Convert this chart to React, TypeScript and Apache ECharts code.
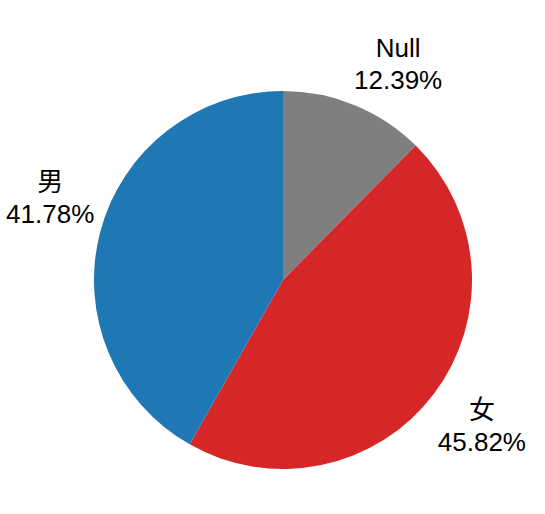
import React, { useEffect, useRef } from "react";
import * as echarts from "echarts";

const categories = ["Null", "女", "男"];
const percents = [12.39, 45.82, 41.78];
const colors = ["#7f7f7f", "#d62728", "#1f77b4"];

const W = 545;
const H = 514;
const CX = 283;
const CY = 280;
const R = 189;

export default function App() {
  const ref = useRef<HTMLDivElement>(null);
  useEffect(() => {
    if (!ref.current) return;
    const chart = echarts.init(ref.current, null, { renderer: "svg" });
    const total = percents.reduce((a, b) => a + b, 0);
    const dirs: { x: number; y: number }[] = [];
    let cum = 0;
    percents.forEach((v) => {
      const mid = ((cum + v / 2) / total) * Math.PI * 2;
      dirs.push({ x: Math.sin(mid), y: -Math.cos(mid) });
      cum += v;
    });
    chart.setOption({
      animation: false,
      backgroundColor: "#ffffff",
      series: [
        {
          type: "pie",
          center: [CX, CY],
          radius: R,
          startAngle: 90,
          clockwise: true,
          data: categories.map((c, i) => ({
            name: c,
            value: percents[i],
            itemStyle: { color: colors[i] },
          })),
          itemStyle: { borderWidth: 0 },
          label: {
            show: true,
            position: "outside",
            formatter: (p: any) => `${p.name}\n${Number(p.value).toFixed(2)}%`,
            fontFamily: "'Liberation Sans', Arial, 'Noto Sans CJK SC', sans-serif",
            fontSize: 26,
            lineHeight: 32,
            color: "#000000",
            align: "center",
            overflow: "none",
            edgeDistance: 0,
          },
          labelLine: { show: false },
          labelLayout: (params: any) => {
            const d = dirs[params.dataIndex];
            const ax = CX + 1.06 * R * d.x;
            const ay = CY + 1.06 * R * d.y;
            const hw = params.labelRect.width / 2 - 5;
            return {
              x: ax + Math.sign(d.x) * hw,
              y: ay + Math.sign(d.y) * 28 - 3,
              align: "center",
              verticalAlign: "middle",
            };
          },
          emphasis: { disabled: true },
        },
      ],
    });
    return () => chart.dispose();
  }, []);
  return (
    <div
      ref={ref}
      style={{ position: "absolute", left: 0, top: 0, width: W, height: H }}
    />
  );
}
